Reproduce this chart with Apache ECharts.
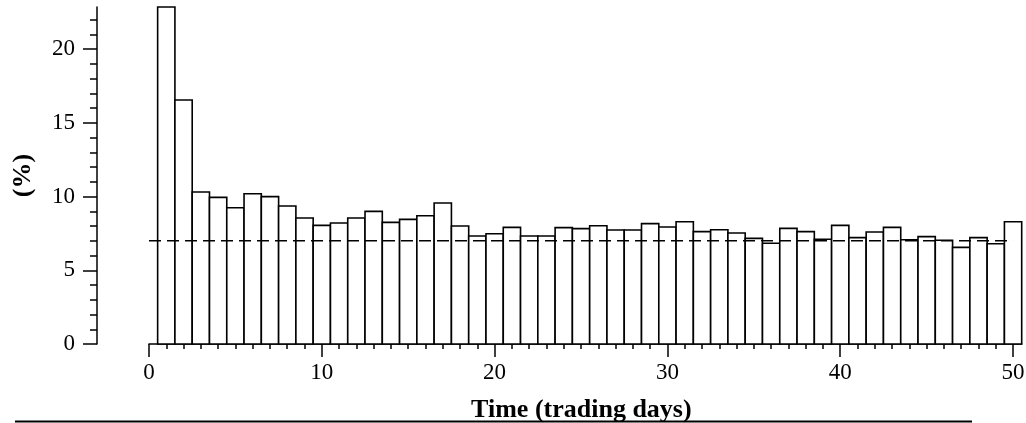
<!DOCTYPE html>
<html>
<head>
<meta charset="utf-8">
<script src="https://cdn.jsdelivr.net/npm/echarts@6/dist/echarts.min.js"></script>
<style>
  html, body { margin: 0; padding: 0; background: #fff; }
  #chart { width: 1026px; height: 423px; }
</style>
</head>
<body>
<div id="chart"></div>
<script>
// Data
const days = [1,2,3,4,5,6,7,8,9,10,11,12,13,14,15,16,17,18,19,20,21,22,23,24,25,26,27,28,29,30,31,32,33,34,35,36,37,38,39,40,41,42,43,44,45,46,47,48,49,50];
const percents = [22.85,16.54,10.31,9.94,9.24,10.19,9.99,9.36,8.54,8.04,8.20,8.54,8.99,8.25,8.45,8.70,9.56,8.00,7.32,7.48,7.91,7.32,7.32,7.89,7.82,8.02,7.73,7.73,8.16,7.93,8.29,7.62,7.75,7.53,7.16,6.83,7.84,7.62,7.10,8.04,7.21,7.59,7.91,7.07,7.28,7.03,6.55,7.21,6.80,8.29];
const referenceLevel = 7;
const refLineX = [0, 50];
const xMajorTicks = [0, 10, 20, 30, 40, 50];
const xMinorTicks = [0,1,2,3,4,5,6,7,8,9,10,11,12,13,14,15,16,17,18,19,20,21,22,23,24,25,26,27,28,29,30,31,32,33,34,35,36,37,38,39,40,41,42,43,44,45,46,47,48,49,50];
const yMajorTicks = [0, 5, 10, 15, 20];
const yMinorTicks = [0,1,2,3,4,5,6,7,8,9,10,11,12,13,14,15,16,17,18,19,20,21,22];
const xTitle = 'Time (trading days)';
const yTitle = '(%)';

const FONT = 'Liberation Serif';
const barData = days.map((d, i) => [d, percents[i]]);

const chart = echarts.init(document.getElementById('chart'), null, { renderer: 'canvas' });

const baseX = {
  type: 'value', min: 0, max: 50.5, position: 'bottom',
  splitLine: { show: false }
};
const baseY = {
  type: 'value', min: 0, max: 22.85, position: 'left', offset: 52,
  splitLine: { show: false }
};

chart.setOption({
  animation: false,
  backgroundColor: '#fff',
  grid: { left: 149, right: 4.3, top: 7, bottom: 79, containLabel: false, outerBoundsMode: 'none' },
  xAxis: [
    Object.assign({}, baseX, {
      axisLine: { show: true, onZero: false, lineStyle: { color: '#000', width: 1.5 } },
      axisTick: { show: true, customValues: xMajorTicks, length: 13, inside: false, lineStyle: { color: '#000', width: 1.5 } },
      axisLabel: { show: true, customValues: xMajorTicks, margin: 17, color: '#000', fontFamily: FONT, fontSize: 23 },
      name: xTitle, nameLocation: 'middle', nameGap: 53,
      nameTextStyle: { color: '#000', fontFamily: FONT, fontSize: 26, fontWeight: 'bold', padding: [0, 8, 0, 0] }
    }),
    Object.assign({}, baseX, {
      axisLine: { show: false, onZero: false },
      axisTick: { show: true, customValues: xMinorTicks, length: 5, inside: false, lineStyle: { color: '#000', width: 1.5 } },
      axisLabel: { show: false }
    })
  ],
  yAxis: [
    Object.assign({}, baseY, {
      axisLine: { show: true, onZero: false, lineStyle: { color: '#000', width: 1.5 } },
      axisTick: { show: true, customValues: yMajorTicks, length: 14, inside: false, lineStyle: { color: '#000', width: 1.5 } },
      axisLabel: { show: true, customValues: yMajorTicks, margin: 22, color: '#000', fontFamily: FONT, fontSize: 23 },
      name: yTitle, nameLocation: 'middle', nameGap: 61, nameRotate: 90,
      nameTextStyle: { color: '#000', fontFamily: FONT, fontSize: 26, fontWeight: 'bold' }
    }),
    Object.assign({}, baseY, {
      axisLine: { show: false, onZero: false },
      axisTick: { show: true, customValues: yMinorTicks, length: 7, inside: false, lineStyle: { color: '#000', width: 1.5 } },
      axisLabel: { show: false }
    })
  ],
  series: [
    {
      type: 'custom',
      xAxisIndex: 0, yAxisIndex: 0,
      data: barData,
      clip: false,
      renderItem: function (params, api) {
        const x = api.value(0), y = api.value(1);
        const p0 = api.coord([x - 0.5, y]);
        const p1 = api.coord([x + 0.5, 0]);
        return {
          type: 'rect',
          shape: { x: p0[0], y: p0[1], width: p1[0] - p0[0], height: p1[1] - p0[1] },
          style: { fill: '#fff', stroke: '#000', lineWidth: 1.6 }
        };
      },
      z: 2
    },
    {
      type: 'line',
      xAxisIndex: 0, yAxisIndex: 0,
      data: refLineX.map(x => [x, referenceLevel]),
      symbol: 'none',
      lineStyle: { color: '#000', width: 1.6, type: [12, 6] },
      z: 3
    }
  ],
  graphic: [
    {
      type: 'line',
      shape: { x1: 15, y1: 421.5, x2: 972, y2: 421.5 },
      style: { stroke: '#000', lineWidth: 2 }
    }
  ]
});
</script>
</body>
</html>
